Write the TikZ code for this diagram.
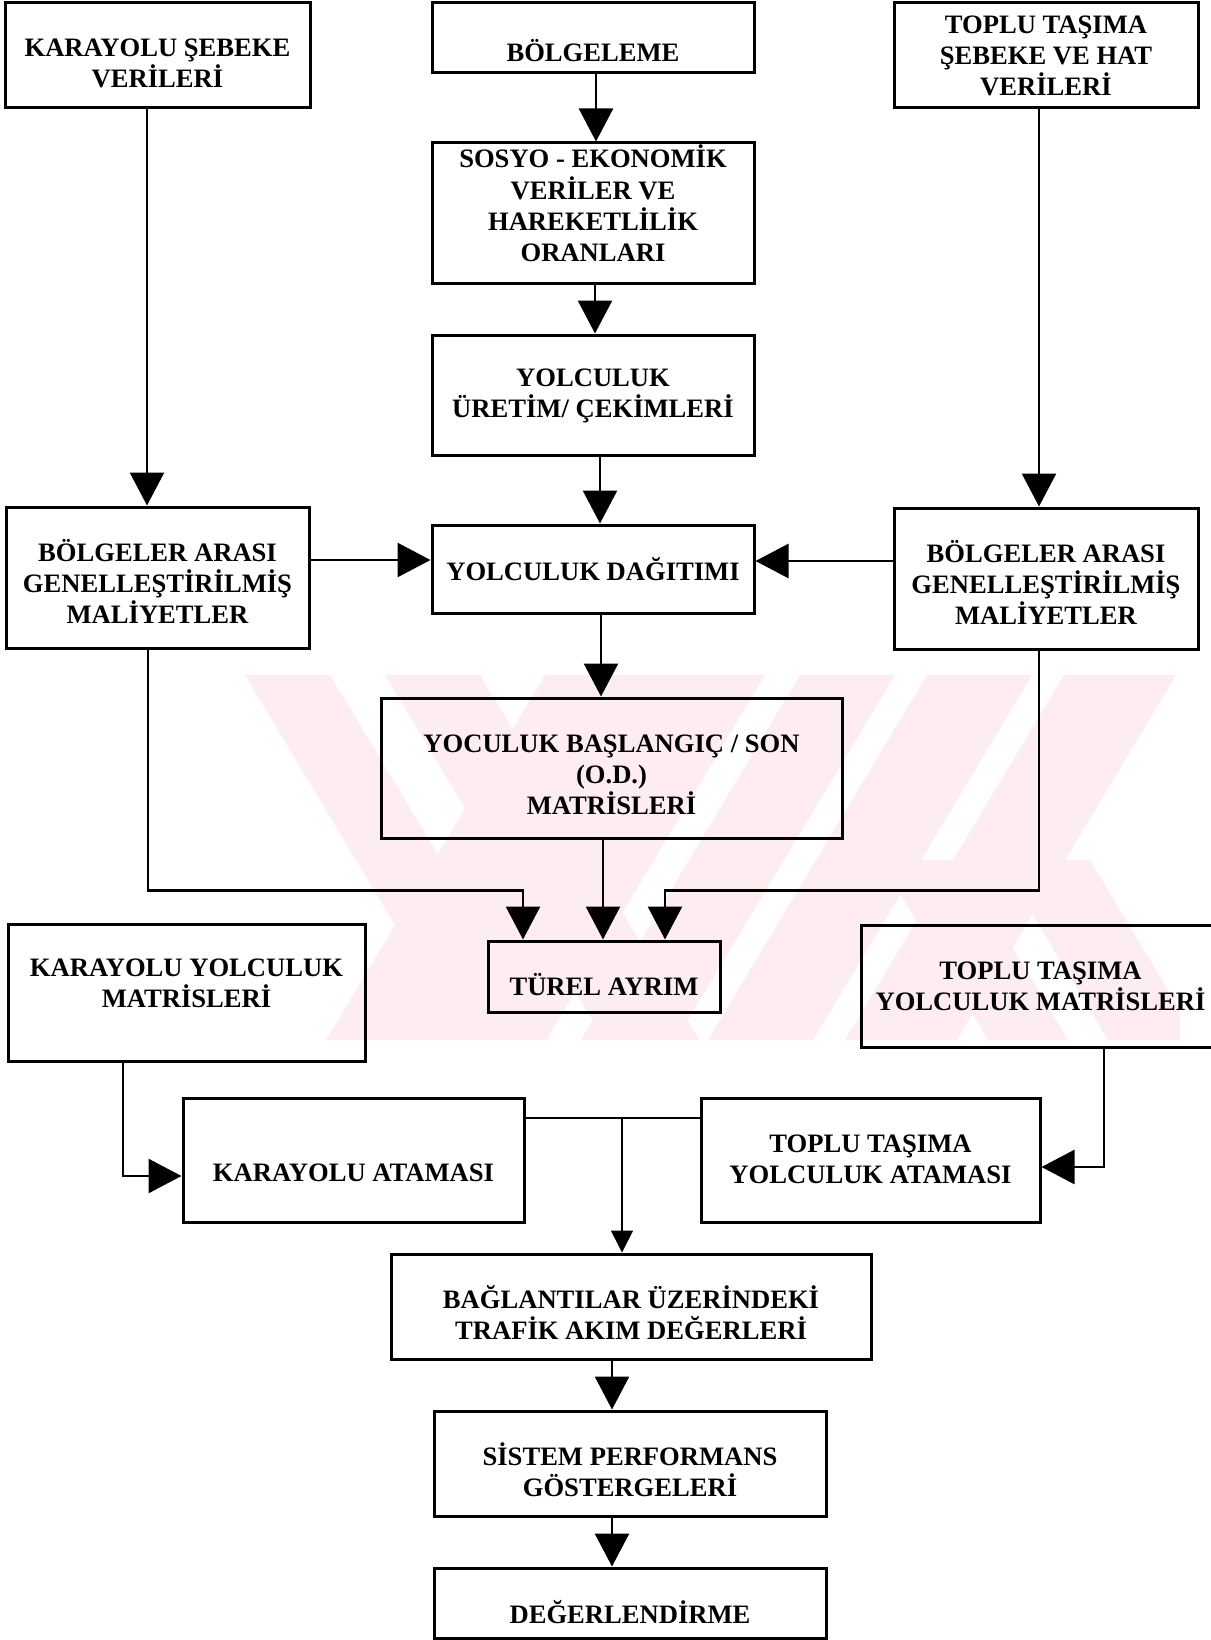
\documentclass[tikz,border=0pt]{standalone}
\usepackage{fontspec}
\setmainfont{Liberation Serif}
\usetikzlibrary{arrows.meta}

\definecolor{wmpink}{RGB}{253,236,240}

\begin{document}
\begin{tikzpicture}[x=1pt,y=-1pt,
  box/.style={draw, line width=3pt, rectangle, inner sep=0pt},
  txt/.style={font=\fontsize{26.6}{31}\selectfont\bfseries, align=center,
              anchor=base, inner sep=0pt},
  link/.style={line width=2.6pt},
  arr/.style={link, -{Triangle[length=33pt,width=34pt]}},
  thinarr/.style={line width=1.6pt, -{Triangle[length=22pt,width=22pt]}},
]
\useasboundingbox (0,0) rectangle (1210,1640);

% faint background emblem made of diagonal bands
\begin{scope}
  \clip (240,675) rectangle (1180,1040);
  \fill[wmpink] (245,675) -- (330,675) -- (549,1040) -- (464,1040) -- cycle;
  \fill[wmpink] (385,675) -- (480,675) -- (699,1040) -- (604,1040) -- cycle;
  \fill[wmpink] (545,675) -- (765,675) -- (546,1040) -- (326,1040) -- cycle;
  \fill[wmpink] (800,675) -- (895,675) -- (676,1040) -- (581,1040) -- cycle;
  \fill[wmpink] (927,675) -- (1032,675) -- (813,1040) -- (708,1040) -- cycle;
  \fill[wmpink] (1064,675) -- (1176,675) -- (957,1040) -- (845,1040) -- cycle;
  \fill[wmpink] (880,860) -- (960,860) -- (1068,1040) -- (988,1040) -- cycle;
  \fill[wmpink] (1000,860) -- (1090,860) -- (1180,1010) -- (1180,1040) -- (1108,1040) -- cycle;
\end{scope}

% boxes
\node[box, minimum width=305pt, minimum height=105pt] (karsebeke) at (157.5,55.5) {};
\node[box, minimum width=322pt, minimum height=70pt]  (bolgeleme) at (593,38) {};
\node[box, minimum width=304pt, minimum height=105pt] (topsebeke) at (1046,55.5) {};
\node[box, minimum width=322pt, minimum height=140pt] (sosyo)     at (593,213) {};
\node[box, minimum width=322pt, minimum height=120pt] (uretim)    at (593,395) {};
\node[box, minimum width=303pt, minimum height=141pt] (lmaliyet)  at (157.5,577.5) {};
\node[box, minimum width=322pt, minimum height=88pt]  (dagitim)   at (593,569) {};
\node[box, minimum width=304pt, minimum height=141pt] (rmaliyet)  at (1046,578.5) {};
\node[box, minimum width=461pt, minimum height=140pt] (odmat)     at (611.5,768) {};
\node[box, minimum width=232pt, minimum height=71pt]  (turel)     at (604,976.5) {};
\node[box, minimum width=357pt, minimum height=137pt] (karyolmat) at (186.5,992.5) {};
\node[box, minimum width=359pt, minimum height=122pt] (topyolmat) at (1040.5,986) {};
\node[box, minimum width=341pt, minimum height=124pt] (karatama)  at (353.5,1160) {};
\node[box, minimum width=339pt, minimum height=124pt] (topatama)  at (870.5,1160) {};
\node[box, minimum width=480pt, minimum height=105pt] (baglanti)  at (631,1306.5) {};
\node[box, minimum width=392pt, minimum height=105pt] (sistem)    at (630,1463.5) {};
\node[box, minimum width=392pt, minimum height=70pt]  (deger)     at (630,1603) {};

% box texts (anchored on the baseline of the last line)
\node[txt] (karsebeke-t) at (157.5,88)  {KARAYOLU ŞEBEKE\\VERİLERİ};
\node[txt] (bolgeleme-t) at (593,62)    {BÖLGELEME};
\node[txt] (topsebeke-t) at (1046,95.5) {TOPLU TAŞIMA\\ŞEBEKE VE HAT\\VERİLERİ};
\node[txt] (sosyo-t)     at (593,261)   {SOSYO - EKONOMİK\\VERİLER VE\\HAREKETLİLİK\\ORANLARI};
\node[txt] (uretim-t)    at (593,417)   {YOLCULUK\\ÜRETİM/ ÇEKİMLERİ};
\node[txt] (lmaliyet-t)  at (157.5,623) {BÖLGELER ARASI\\GENELLEŞTİRİLMİŞ\\MALİYETLER};
\node[txt] (dagitim-t)   at (593,580)   {YOLCULUK DAĞITIMI};
\node[txt] (rmaliyet-t)  at (1046,624)  {BÖLGELER ARASI\\GENELLEŞTİRİLMİŞ\\MALİYETLER};
\node[txt] (odmat-t)     at (611.5,814) {YOCULUK BAŞLANGIÇ / SON\\(O.D.)\\MATRİSLERİ};
\node[txt] (turel-t)     at (604,995)   {TÜREL AYRIM};
\node[txt] (karyolmat-t) at (186.5,1007) {KARAYOLU YOLCULUK\\MATRİSLERİ};
\node[txt] (topyolmat-t) at (1040.5,1010) {TOPLU TAŞIMA\\YOLCULUK MATRİSLERİ};
\node[txt] (karatama-t)  at (353.5,1181) {KARAYOLU ATAMASI};
\node[txt] (topatama-t)  at (870.5,1183) {TOPLU TAŞIMA\\YOLCULUK ATAMASI};
\node[txt] (baglanti-t)  at (631,1339)  {BAĞLANTILAR ÜZERİNDEKİ\\TRAFİK AKIM DEĞERLERİ};
\node[txt] (sistem-t)    at (630,1496)  {SİSTEM PERFORMANS\\GÖSTERGELERİ};
\node[txt] (deger-t)     at (630,1623)  {DEĞERLENDİRME};

% connectors
\draw[arr] ([xshift=-10.5pt]karsebeke.south) -- ([xshift=-10.5pt]karsebeke.south |- lmaliyet.north);
\draw[arr] ([xshift=-7pt]topsebeke.south) -- ([xshift=-7pt]topsebeke.south |- rmaliyet.north);
\draw[arr] ([xshift=3pt]bolgeleme.south) -- ([xshift=3pt]bolgeleme.south |- sosyo.north);
\draw[arr] ([xshift=2pt]sosyo.south) -- ([xshift=2pt]sosyo.south |- uretim.north);
\draw[arr] ([xshift=7pt]uretim.south) -- ([xshift=7pt]uretim.south |- dagitim.north);
\draw[arr] ([yshift=17.5pt]lmaliyet.east) -- ([yshift=17.5pt]lmaliyet.east -| dagitim.west);
\draw[arr] ([yshift=17.5pt]rmaliyet.west) -- ([yshift=17.5pt]rmaliyet.west -| dagitim.east);
\draw[arr] ([xshift=8pt]dagitim.south) -- ([xshift=8pt]dagitim.south |- odmat.north);
\draw[arr] ([xshift=-8.5pt]odmat.south) -- ([xshift=-8.5pt]odmat.south |- turel.north);
\draw[arr] ([xshift=-9.5pt]lmaliyet.south) -- ++(0,241) -| ([xshift=-81pt]turel.north);
\draw[arr] ([xshift=-7pt]rmaliyet.south) -- ++(0,240) -| ([xshift=61pt]turel.north);
\draw[arr] ([xshift=-63.5pt]karyolmat.south) |- ([yshift=-16pt]karatama.west);
\draw[arr] ([xshift=63.5pt]topyolmat.south) |- ([yshift=-7pt]topatama.east);
\draw[link] ([yshift=42pt]karatama.east) -- ([yshift=42pt]topatama.west);
\coordinate (junc) at (622,1118);
\draw[thinarr] (junc) -- (junc |- baglanti.north);
\draw[arr] ([xshift=-19pt]baglanti.south) -- ([xshift=-19pt]baglanti.south |- sistem.north);
\draw[arr] ([xshift=-18pt]sistem.south) -- ([xshift=-18pt]sistem.south |- deger.north);
\end{tikzpicture}
\end{document}
